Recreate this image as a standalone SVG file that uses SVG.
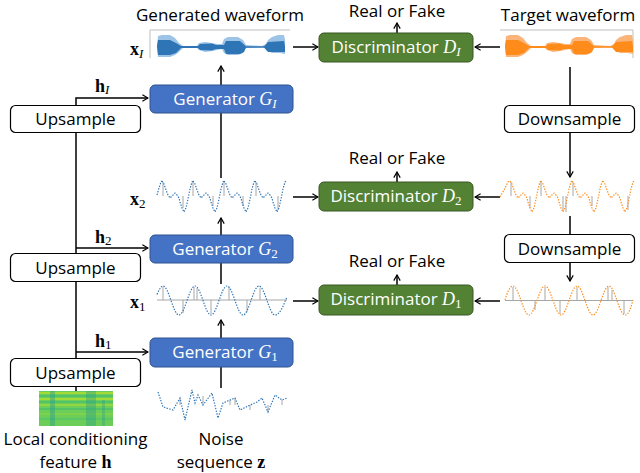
<svg xmlns="http://www.w3.org/2000/svg" xmlns:xlink="http://www.w3.org/1999/xlink" width="640" height="473" viewBox="0 0 640 473">
<style>
.t{font-family:"Open Sans","Noto Sans",sans-serif;font-size:17px;fill:#000}
.w{fill:#fff}
.m{font-family:"Liberation Serif","DejaVu Serif",serif}
.bx{fill:#fff;stroke:#000;stroke-width:1.2}
.gen{fill:#4472c4;stroke:#2f528f;stroke-width:1}
.dis{fill:#548235;stroke:#385723;stroke-width:1}
.ln{fill:none;stroke:#000;stroke-width:1.5}
.bw{fill:none;stroke:#2e75b6;stroke-width:1.2;stroke-dasharray:1.4 1.4}
.ow{fill:none;stroke:#ff8c1a;stroke-width:1.2;stroke-dasharray:1.4 1.4}
.st{stroke:#a6a6a6;stroke-width:1}
.frame{fill:none;stroke:#bfbfbf;stroke-width:1}
</style>
<defs>
<marker id="arr" viewBox="0 0 10 10" refX="9" refY="5" markerWidth="8" markerHeight="8" orient="auto" markerUnits="userSpaceOnUse">
<path d="M2,1 L9,5 L2,9" fill="none" stroke="#000" stroke-width="1.5"/>
</marker>
<path id="env" d="M157,47 L158,36 L162,35 L170,35 L175,38 L179,43 L183,46 L197,46 L199,43 L205,42 L212,43 L217,44 L222,44 L224,39 L228,37 L238,37 L243,40 L246,45 L262,46 L266,44 L268,40 L272,37 L278,35 L284,35 L285,40 L285,47 L285,54 L280,53 L272,53 L268,51 L266,48 L262,47 L246,48 L243,53 L238,55 L228,55 L224,53 L222,49 L217,50 L212,51 L205,52 L199,50 L197,48 L183,48 L179,52 L175,55 L170,57 L162,57 L158,57 Z"/>
<path id="core" d="M157,46 L158,40 L170,40 L176,43 L181,46 L198,46 L200,44 L212,43.5 L216,45 L224,45 L226,41 L240,41 L244,44.5 L246,46.5 L264,46.5 L268,42 L284,41 L285,46.5 L285,52 L268,52 L264,47.5 L246,47.5 L244,52 L240,54 L226,54 L224,49 L216,49 L212,50.5 L200,50 L198,48 L181,48 L176,53 L170,55 L158,55 Z"/>
<path id="per" d="M0,-15 L2,-12 L4,-6 L6,-1 L8,2 L10,0 L12,-2 L13,-3 L15,-1 L17,2 L18,6 L20,12 L22,16 L24,12 L26,3 L28,-7 L30,-14 L31,-15"/>
</defs>
<rect width="640" height="473" fill="#fff"/>

<g id="connectors">
<path class="ln" d="M76,393 V387"/>
<path class="ln" d="M76,358 V282"/>
<path class="ln" d="M76,253 V133"/>
<path class="ln" d="M76,105 V98 H148" marker-end="url(#arr)"/>
<path class="ln" d="M76,248 H148" marker-end="url(#arr)"/>
<path class="ln" d="M76,352 H148" marker-end="url(#arr)"/>
<path class="ln" d="M221,388 V367"/>
<path class="ln" d="M221,338 V320" marker-end="url(#arr)"/>
<path class="ln" d="M221,284 V263"/>
<path class="ln" d="M221,235 V218" marker-end="url(#arr)"/>
<path class="ln" d="M221,178 V113"/>
<path class="ln" d="M221,85 V66" marker-end="url(#arr)"/>
<path class="ln" d="M293,47 H318" marker-end="url(#arr)"/>
<path class="ln" d="M293,197 H318" marker-end="url(#arr)"/>
<path class="ln" d="M293,301 H318" marker-end="url(#arr)"/>
<path class="ln" d="M500,47 H475" marker-end="url(#arr)"/>
<path class="ln" d="M500,197 H475" marker-end="url(#arr)"/>
<path class="ln" d="M500,301 H475" marker-end="url(#arr)"/>
<path class="ln" d="M397,33 V23" marker-end="url(#arr)"/>
<path class="ln" d="M397,182 V172" marker-end="url(#arr)"/>
<path class="ln" d="M397,285 V275" marker-end="url(#arr)"/>
<path class="ln" d="M570,67 V105"/>
<path class="ln" d="M570,133 V177" marker-end="url(#arr)"/>
<path class="ln" d="M570,216 V234"/>
<path class="ln" d="M570,263 V281" marker-end="url(#arr)"/>
</g>

<g id="upsample3"><rect class="bx" x="10.5" y="105.5" width="130" height="27" rx="5"/><text class="t" x="75.5" y="125" text-anchor="middle">Upsample</text></g>
<g id="upsample2"><rect class="bx" x="10.5" y="253.5" width="130" height="28" rx="5"/><text class="t" x="75.5" y="274" text-anchor="middle">Upsample</text></g>
<g id="upsample1"><rect class="bx" x="10.5" y="358.5" width="130" height="28" rx="5"/><text class="t" x="75.5" y="379" text-anchor="middle">Upsample</text></g>

<g id="hlabels">
<text class="m" x="95" y="92" font-size="18" font-weight="bold">h<tspan font-size="13" font-style="italic" font-weight="normal" dy="2">I</tspan></text>
<text class="m" x="95" y="243" font-size="18" font-weight="bold">h<tspan font-size="13" font-weight="normal" dy="2">2</tspan></text>
<text class="m" x="95" y="347" font-size="18" font-weight="bold">h<tspan font-size="13" font-weight="normal" dy="2">1</tspan></text>
</g>

<g id="genI"><rect class="gen" x="150" y="85" width="143" height="28" rx="5"/><text class="t w" x="225" y="105" text-anchor="middle">Generator <tspan class="m" font-style="italic" font-size="18">G</tspan><tspan class="m" font-style="italic" font-size="13" dy="3">I</tspan></text></g>
<g id="gen2"><rect class="gen" x="150" y="235" width="143" height="28" rx="5"/><text class="t w" x="225" y="255" text-anchor="middle">Generator <tspan class="m" font-style="italic" font-size="18">G</tspan><tspan class="m" font-size="13" dy="3">2</tspan></text></g>
<g id="gen1"><rect class="gen" x="150" y="338" width="143" height="29" rx="5"/><text class="t w" x="225" y="358" text-anchor="middle">Generator <tspan class="m" font-style="italic" font-size="18">G</tspan><tspan class="m" font-size="13" dy="3">1</tspan></text></g>

<g id="disI"><rect class="dis" x="319" y="33" width="154" height="29" rx="5"/><text class="t w" x="396" y="53" text-anchor="middle">Discriminator <tspan class="m" font-style="italic" font-size="18">D</tspan><tspan class="m" font-style="italic" font-size="13" dy="3">I</tspan></text></g>
<g id="dis2"><rect class="dis" x="319" y="182" width="154" height="29" rx="5"/><text class="t w" x="396" y="202" text-anchor="middle">Discriminator <tspan class="m" font-style="italic" font-size="18">D</tspan><tspan class="m" font-size="13" dy="3">2</tspan></text></g>
<g id="dis1"><rect class="dis" x="319" y="285" width="154" height="30" rx="5"/><text class="t w" x="396" y="305" text-anchor="middle">Discriminator <tspan class="m" font-style="italic" font-size="18">D</tspan><tspan class="m" font-size="13" dy="3">1</tspan></text></g>

<g id="rof">
<text class="t" x="397" y="17" text-anchor="middle">Real or Fake</text>
<text class="t" x="397" y="164" text-anchor="middle">Real or Fake</text>
<text class="t" x="397" y="267" text-anchor="middle">Real or Fake</text>
</g>

<g id="downsample1"><rect class="bx" x="504.5" y="105.5" width="130" height="27" rx="5"/><text class="t" x="569.5" y="125" text-anchor="middle">Downsample</text></g>
<g id="downsample2"><rect class="bx" x="504.5" y="234.5" width="130" height="28" rx="5"/><text class="t" x="569.5" y="255" text-anchor="middle">Downsample</text></g>

<g id="genwave">
<text class="t" x="220" y="21" text-anchor="middle">Generated waveform</text>
<path class="frame" d="M150,58 V30 H290"/>
<use href="#env" fill="#9dc3e6"/>
<use href="#core" fill="#2e75b6"/>
<path d="M157,47 H285" stroke="#2e75b6" stroke-width="1"/>
<text class="m" x="130" y="55" font-size="18" font-weight="bold">x<tspan font-size="13" font-style="italic" font-weight="normal" dy="3">I</tspan></text>
</g>

<g id="targetwave">
<text class="t" x="568" y="21" text-anchor="middle">Target waveform</text>
<path class="frame" d="M500,30 H633 V58"/>
<g transform="translate(348,0)">
<use href="#env" fill="#fbb47a"/>
<use href="#core" fill="#ff8c1a"/>
<path d="M157,47 H285" stroke="#ff8c1a" stroke-width="1"/>
</g>
</g>

<g id="x2wave">
<g class="st">
<line x1="163" y1="196" x2="163" y2="182"/><line x1="183" y1="196" x2="183" y2="208"/><line x1="193" y1="196" x2="193" y2="182"/><line x1="213" y1="196" x2="213" y2="206"/><line x1="224" y1="196" x2="224" y2="182"/><line x1="243" y1="196" x2="243" y2="206"/><line x1="256" y1="196" x2="256" y2="182"/><line x1="278" y1="196" x2="278" y2="210"/>
</g>
<path class="bw" d="M157,195 L159,188 L161,182 L162,181"/>
<use href="#per" class="bw" x="162" y="196"/>
<use href="#per" class="bw" x="193" y="196"/>
<use href="#per" class="bw" x="224" y="196"/>
<use href="#per" class="bw" x="255" y="196"/>
<text class="m" x="130" y="205" font-size="18" font-weight="bold">x<tspan font-size="13" font-weight="normal" dy="3">2</tspan></text>
</g>

<g id="x2target">
<g class="st">
<line x1="511" y1="196" x2="511" y2="182"/><line x1="530" y1="196" x2="530" y2="208"/><line x1="541" y1="196" x2="541" y2="182"/><line x1="563" y1="196" x2="563" y2="210"/><line x1="566" y1="196" x2="566" y2="212"/><line x1="573" y1="196" x2="573" y2="182"/><line x1="592" y1="196" x2="592" y2="206"/><line x1="628" y1="196" x2="628" y2="210"/>
</g>
<path class="ow" d="M500,197 L504,190 L508,182 L510,181"/>
<use href="#per" class="ow" x="510" y="196"/>
<use href="#per" class="ow" x="541" y="196"/>
<use href="#per" class="ow" x="572" y="196"/>
<use href="#per" class="ow" x="603" y="196"/>
</g>

<g id="x1wave">
<path d="M157,300 H287" stroke="#a6a6a6" stroke-width="1"/>
<g class="st">
<line x1="163" y1="300" x2="163" y2="287"/><line x1="183" y1="300" x2="183" y2="313"/><line x1="194" y1="300" x2="194" y2="287"/><line x1="197" y1="300" x2="197" y2="288"/><line x1="211" y1="300" x2="211" y2="314"/><line x1="229" y1="300" x2="229" y2="287"/><line x1="247" y1="300" x2="247" y2="312"/><line x1="260" y1="300" x2="260" y2="288"/>
</g>
<path class="bw" d="M157,294.5 C159,290 161,286 163,286 C168.8,286 173.2,315 179,315 S189.2,286 195,286 S205.2,315 211,315 S221.2,286 227,286 S237.2,315 243,315 S253.2,286 259,286 S269.2,315 275,315 C280,315 283,306 287,297"/>
<text class="m" x="130" y="308" font-size="18" font-weight="bold">x<tspan font-size="13" font-weight="normal" dy="3">1</tspan></text>
</g>

<g id="x1target">
<path d="M505,300.5 H633" stroke="#a6a6a6" stroke-width="1"/>
<g class="st">
<line x1="513" y1="300" x2="513" y2="287"/><line x1="535" y1="300" x2="535" y2="310"/><line x1="545" y1="300" x2="545" y2="287"/><line x1="560" y1="300" x2="560" y2="314"/><line x1="577" y1="300" x2="577" y2="287"/><line x1="608" y1="300" x2="608" y2="287"/><line x1="612" y1="300" x2="612" y2="290"/><line x1="624" y1="300" x2="624" y2="314"/>
</g>
<path class="ow" d="M505,300 C507,293 510,286 513,286 C518.8,286 523.2,315 529,315 S539.2,286 545,286 S555.2,315 561,315 S571.2,286 577,286 S587.2,315 593,315 S603.2,286 609,286 S619.2,315 625,315 C629,315 631,307 633,300"/>
</g>

<g id="noise">
<g class="st">
<line x1="180" y1="405" x2="180" y2="398"/><line x1="203" y1="405" x2="203" y2="396"/><line x1="230" y1="405" x2="230" y2="400"/><line x1="235" y1="405" x2="235" y2="398"/><line x1="250" y1="405" x2="250" y2="410"/><line x1="268" y1="405" x2="268" y2="412"/><line x1="282" y1="405" x2="282" y2="400"/>
</g>
<path class="bw" d="M158,392 L163,407 L173,410 L180,398 L185,420 L192,390 L195,403 L198,395 L203,405 L212,393 L218,418 L223,403 L230,400 L235,398 L240,410 L250,405 L257,402 L262,398 L268,412 L275,395 L282,400 L287,398"/>
<text class="t" x="221" y="445" text-anchor="middle">Noise</text>
<text class="t" x="221" y="468" text-anchor="middle">sequence <tspan class="m" font-weight="bold" font-size="18">z</tspan></text>
</g>

<g id="feature">
<rect x="39" y="391" width="74" height="35" fill="#6cce59"/>
<g stroke-width="1.5">
<path d="M39,393 H113" stroke="#b5de2b"/>
<path d="M39,396 H113" stroke="#4ac16d"/>
<path d="M39,399 H113" stroke="#b5de2b"/>
<path d="M39,402 H113" stroke="#4ac16d"/>
<path d="M39,405 H113" stroke="#a0da39"/>
<path d="M39,409 H113" stroke="#4ac16d"/>
<path d="M39,414 H113" stroke="#86d549"/>
<path d="M39,419 H113" stroke="#52c569"/>
</g>
<rect x="50" y="391" width="5" height="35" fill="#2a9d8a" opacity="0.45"/>
<rect x="86" y="391" width="10" height="35" fill="#2a9d8a" opacity="0.4"/>
<rect x="102" y="400" width="3" height="26" fill="#2a9d8a" opacity="0.35"/>
<text class="t" x="75.5" y="445" text-anchor="middle">Local conditioning</text>
<text class="t" x="75.5" y="468" text-anchor="middle">feature <tspan class="m" font-weight="bold" font-size="18">h</tspan></text>
</g>
</svg>
